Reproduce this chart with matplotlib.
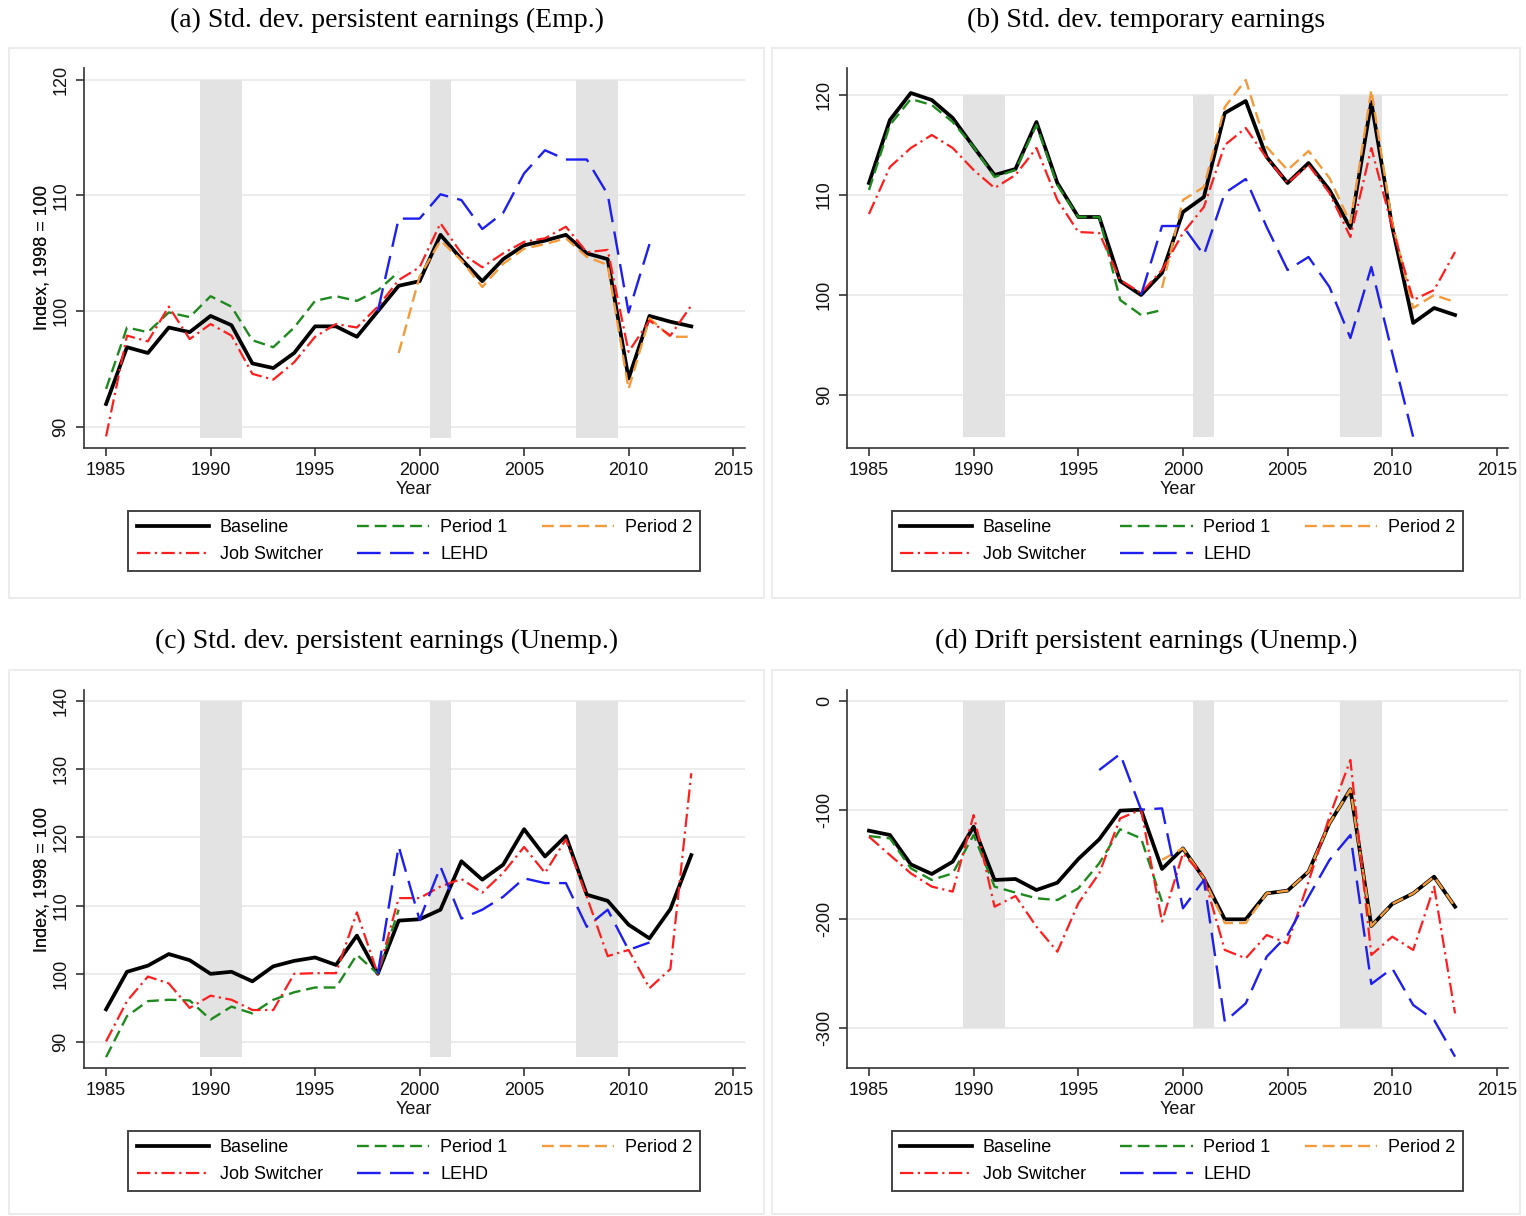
"""
Std. dev. and drift of earnings components, four panels
"""

import numpy as np
import matplotlib.pyplot as plt
from matplotlib.patches import Rectangle
from matplotlib.lines import Line2D

plt.rcParams['font.family'] = ['Liberation Sans', 'DejaVu Sans']
plt.rcParams['axes.unicode_minus'] = False

# data (index, 1998 = 100)
years = np.arange(1985, 2014)
years_p1 = np.arange(1985, 2000)
years_p2 = np.arange(1999, 2014)
years_lehd = np.arange(1998, 2012)
years_lehd_d = np.arange(1996, 2014)
recession_years = [1990, 1991, 2001, 2008, 2009]

a_base = [92.0, 96.9, 96.4, 98.6, 98.2, 99.6, 98.8, 95.5, 95.1, 96.4, 98.7, 98.7, 97.8, 100.0, 102.2,
          102.6, 106.6, 104.5, 102.6, 104.5, 105.7, 106.1, 106.6, 105.0, 104.5, 94.2, 99.6, 99.1, 98.7]
a_switch = [89.2, 97.9, 97.4, 100.4, 97.6, 98.9, 97.9, 94.6, 94.1, 95.6, 97.8, 98.9, 98.6, 100.4, 102.7,
            103.8, 107.6, 105.0, 103.8, 105.0, 106.0, 106.3, 107.3, 105.1, 105.3, 96.5, 99.2, 97.9, 100.5]
a_p1 = [93.3, 98.6, 98.2, 99.9, 99.5, 101.3, 100.4, 97.5, 96.9, 98.6, 100.9, 101.3, 100.9, 101.8, 103.4]
a_p2 = [96.4, 103.0, 106.1, 104.4, 102.1, 104.1, 105.4, 105.8, 106.3, 104.7, 104.0, 93.3, 99.4, 97.8, 97.8]
a_lehd = [100.0, 108.0, 108.0, 110.1, 109.6, 107.1, 108.5, 111.9, 113.9, 113.1, 113.1, 110.1, 99.9, 105.8]

b_base = [111.2, 117.5, 120.2, 119.5, 117.7, 114.8, 112.0, 112.6, 117.3, 111.2, 107.8, 107.8, 101.4, 100.0, 102.2,
          108.3, 109.8, 118.2, 119.4, 113.8, 111.2, 113.2, 110.5, 106.7, 119.3, 106.8, 97.2, 98.7, 98.0]
b_switch = [108.1, 112.8, 114.7, 116.0, 114.7, 112.5, 110.7, 112.0, 114.7, 109.5, 106.3, 106.2, 101.5, 100.2, 102.5,
            106.2, 108.8, 115.0, 116.7, 113.7, 111.2, 113.0, 110.2, 105.8, 114.7, 106.8, 99.5, 100.5, 104.3]
b_p1 = [110.5, 117.0, 119.6, 119.0, 117.3, 114.8, 111.8, 112.5, 117.0, 111.0, 107.8, 107.8, 99.5, 98.0, 98.5]
b_p2 = [100.7, 109.5, 110.8, 118.8, 121.5, 114.8, 112.5, 114.4, 111.7, 107.2, 120.5, 107.2, 98.7, 100.0, 99.3]
b_lehd = [100.0, 106.9, 106.9, 104.0, 110.2, 111.6, 106.8, 102.5, 103.8, 100.8, 95.7, 102.8, 94.2, 85.8]

c_base = [94.8, 100.3, 101.2, 102.9, 102.0, 100.0, 100.3, 98.9, 101.1, 101.9, 102.4, 101.3, 105.6, 100.0, 107.8,
          108.0, 109.4, 116.5, 113.8, 116.0, 121.2, 117.2, 120.2, 111.6, 110.7, 107.2, 105.2, 109.5, 117.4]
c_switch = [90.1, 96.0, 99.6, 98.6, 95.0, 96.8, 96.2, 94.7, 94.7, 100.0, 100.1, 100.1, 109.0, 100.0, 111.1,
            111.1, 112.8, 113.9, 111.9, 114.8, 118.6, 114.8, 119.7, 111.3, 102.6, 103.5, 97.9, 100.7, 129.4]
c_p1 = [87.8, 93.8, 96.0, 96.2, 96.1, 93.3, 95.2, 94.2, 96.2, 97.3, 98.0, 98.0, 102.8, 100.0, 109.4]
c_lehd = [100.0, 118.7, 107.9, 115.7, 108.1, 109.4, 111.3, 114.0, 113.3, 113.3, 106.9, 109.4, 103.5, 104.6]

d_base = [-119.3, -123.2, -150.2, -159.0, -147.7, -115.6, -164.5, -163.6, -173.7, -167.0, -145.3, -127.2, -100.9,
          -100.0, -154.4, -135.5, -163.0, -200.6, -200.6, -176.8, -174.3, -156.9, -112.5, -81.3, -206.7, -186.5,
          -176.8, -161.5, -189.0]
d_switch = [-124.8, -141.6, -158.4, -170.6, -175.2, -104.9, -189.0, -179.2, -207.3, -230.3, -185.9, -158.4, -108.0,
            -100.0, -202.8, -140.1, -161.5, -228.7, -236.4, -215.0, -222.6, -166.1, -106.4, -54.4, -233.3, -216.5,
            -228.7, -170.6, -286.9]
d_p1 = [-124.2, -126.3, -153.8, -164.5, -158.4, -123.2, -170.6, -176.1, -181.3, -182.9, -172.2, -149.2, -118.0,
        -126.3, -184.4]
d_p2 = [-146.0, -135.5, -163.0, -204.0, -204.0, -176.8, -174.3, -156.9, -112.5, -81.3, -206.7, -186.5, -176.8,
        -161.5, -189.0]
d_lehd = [-63.6, -48.9, -100.0, -98.8, -190.5, -164.5, -294.5, -277.7, -234.9, -215.0, -179.8, -146.2, -123.2,
          -259.9, -245.6, -279.2, -293.0, -326.6]

titles = ['(a) Std. dev. persistent earnings (Emp.)', '(b) Std. dev. temporary earnings',
          '(c) Std. dev. persistent earnings (Unemp.)', '(d) Drift persistent earnings (Unemp.)']

# styles
styles = {
    'Baseline': dict(color='black', lw=2.7, ls='-'),
    'Period 1': dict(color='#1e8a1e', lw=1.7, ls=(0, (5, 2.5))),
    'Period 2': dict(color='#f39a3a', lw=1.7, ls=(0, (5, 2.5))),
    'Job Switcher': dict(color='#ff1e1e', lw=1.6, ls=(0, (6, 2, 1, 2))),
    'LEHD': dict(color='#1e1ef0', lw=1.7, ls=(0, (10, 4))),
}

W, H = 1526, 1216
fig = plt.figure(figsize=(W / 100, H / 100), dpi=100)


def px_axes(left, top, right, bottom):
    return fig.add_axes([left / W, 1 - bottom / H, (right - left) / W, (bottom - top) / H])


panels = [
    # box (x0, y0, x1, y1), axes (l, t, r, b), limits, ticks, band range, series
    dict(box=(9, 48, 764, 598), ax=(83.5, 68, 745, 448), xlim=(1983.92, 2015.57), title_y=20,
         ylim=(88.2, 121.0), yticks=[90, 100, 110, 120], band=(89.1, 120),
         series=[('Baseline', years, a_base), ('Period 1', years_p1, a_p1), ('Period 2', years_p2, a_p2),
                 ('Job Switcher', years, a_switch), ('LEHD', years_lehd, a_lehd)]),
    dict(box=(772, 48, 1520, 598), ax=(847, 68, 1508, 448), xlim=(1983.95, 2015.53), title_y=20,
         ylim=(84.7, 122.7), yticks=[90, 100, 110, 120], band=(85.8, 120),
         series=[('Baseline', years, b_base), ('Period 1', years_p1, b_p1), ('Period 2', years_p2, b_p2),
                 ('Job Switcher', years, b_switch), ('LEHD', years_lehd, b_lehd)]),
    dict(box=(9, 670, 764, 1214), ax=(83.5, 690, 745, 1068), xlim=(1983.92, 2015.57), title_y=641,
         ylim=(86.2, 141.6), yticks=[90, 100, 110, 120, 130, 140], band=(87.8, 140),
         series=[('Baseline', years, c_base), ('Period 1', years_p1, c_p1),
                 ('Job Switcher', years, c_switch), ('LEHD', years_lehd, c_lehd)]),
    dict(box=(772, 670, 1520, 1214), ax=(847, 690, 1508, 1068), xlim=(1983.95, 2015.53), title_y=641,
         ylim=(-337, 9.8), yticks=[-300, -200, -100, 0], band=(-300, 0),
         series=[('Baseline', years, d_base), ('Period 1', years_p1, d_p1), ('Period 2', years_p2, d_p2),
                 ('Job Switcher', years, d_switch), ('LEHD', years_lehd_d, d_lehd)]),
]

legend_order = ['Baseline', 'Job Switcher', 'Period 1', 'LEHD', 'Period 2']

for title, p in zip(titles, panels):
    x0, y0, x1, y1 = p['box']
    fig.add_artist(Rectangle((x0 / W, 1 - y1 / H), (x1 - x0) / W, (y1 - y0) / H, transform=fig.transFigure,
                             fc='white', ec='#ececec', lw=1.5, zorder=0))
    fig.text((x0 + x1) / 2 / W, 1 - p['title_y'] / H, title,
             family='Liberation Serif', fontsize=20, ha='center', va='center')

    ax = px_axes(*p['ax'])
    ax.bar(recession_years, p['band'][1] - p['band'][0], bottom=p['band'][0], width=1.0,
           color='#e3e3e3', lw=0, zorder=1)
    for name, xs, ys in p['series']:
        ax.plot(xs, ys, zorder=3, **styles[name])

    ax.set_xlim(*p['xlim'])
    ax.set_ylim(*p['ylim'])
    ax.set_xticks([1985, 1990, 1995, 2000, 2005, 2010, 2015])
    ax.set_yticks(p['yticks'])
    ax.grid(axis='y', color='#ececec', lw=1.5)
    ax.set_axisbelow(True)
    for side in ['top', 'right']:
        ax.spines[side].set_visible(False)
    for side in ['left', 'bottom']:
        ax.spines[side].set_color('#333333')
        ax.spines[side].set_linewidth(1.2)
    ax.tick_params(length=6, width=1.2, color='#333333', labelsize=13, labelcolor='#111111', pad=4)
    ax.tick_params(axis='y', labelrotation=90)
    for lbl in ax.get_yticklabels():
        lbl.set_va('center')

    l, t, r, b = p['ax']
    fig.text(42 / W, 1 - (t + b) / 2 / H, 'Index, 1998 = 100', rotation=90, fontsize=13,
             ha='center', va='center', color='#111111')
    fig.text((l + r) / 2 / W, 1 - (b + 41) / H, 'Year', fontsize=13, ha='center', va='center', color='#111111')

    handles = [Line2D([], [], **styles[name]) for name in legend_order]
    leg = fig.legend(handles, legend_order, ncol=3, loc='upper center',
                     bbox_to_anchor=((l + r) / 2 / W, 1 - (b + 63) / H), bbox_transform=fig.transFigure,
                     fontsize=13, frameon=True, fancybox=False, framealpha=1, handlelength=4,
                     handletextpad=0.6, columnspacing=1.9, labelspacing=0.55, borderpad=0.45,
                     borderaxespad=0)
    leg.get_frame().set_edgecolor('#444444')
    leg.get_frame().set_linewidth(1.4)

plt.savefig('out.png', dpi=100)
